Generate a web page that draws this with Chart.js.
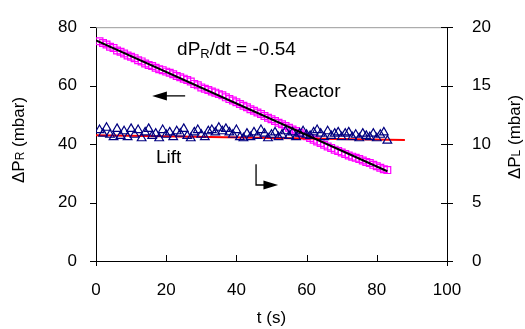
<!DOCTYPE html>
<html>
<head>
<meta charset="utf-8">
<script src="https://cdn.jsdelivr.net/npm/chart.js@4.4.0/dist/chart.umd.min.js"></script>
<style>
  html, body { margin: 0; padding: 0; background: #fff; }
</style>
</head>
<body>
<canvas id="pressureChart" width="525" height="329"></canvas>
<script>
// time axis (s)
const timeS = [
  1, 2, 3, 4, 5, 6, 7, 8, 9, 10, 11, 12, 13, 14, 15, 16, 17, 18, 19, 20,
  21, 22, 23, 24, 25, 26, 27, 28, 29, 30, 31, 32, 33, 34, 35, 36, 37, 38, 39, 40,
  41, 42, 43, 44, 45, 46, 47, 48, 49, 50, 51, 52, 53, 54, 55, 56, 57, 58, 59, 60,
  61, 62, 63, 64, 65, 66, 67, 68, 69, 70, 71, 72, 73, 74, 75, 76, 77, 78, 79, 80,
  81, 82, 83
];

// reactor pressure drop (mbar, left axis)
const reactorP = [
  75.2, 74.6, 74.1, 73.3, 72.9, 72.0, 71.6, 71.0, 70.3, 69.9,
  69.4, 68.7, 68.3, 67.6, 67.1, 66.7, 66.1, 65.6, 65.3, 64.8,
  64.4, 63.9, 63.3, 62.9, 62.4, 61.9, 61.4, 60.6, 60.1, 59.4,
  58.9, 58.5, 58.0, 57.6, 57.1, 56.7, 56.0, 55.4, 54.9, 54.3,
  53.7, 53.1, 52.6, 51.9, 51.4, 50.8, 50.3, 49.6, 49.0, 48.5,
  47.9, 47.3, 46.8, 46.2, 45.6, 45.0, 44.5, 43.9, 43.3, 42.7,
  42.1, 41.5, 40.9, 40.4, 39.8, 39.2, 38.7, 38.1, 37.6, 37.1,
  36.6, 36.1, 35.7, 35.3, 34.9, 34.4, 33.9, 33.5, 32.9, 32.4,
  31.9, 31.4, 31.1
];

// lift pressure drop (mbar, right axis)
const liftP = [
  11.2, 10.9, 11.4, 10.8, 10.6, 11.3, 10.7, 11.1, 10.6, 11.3,
  10.8, 11.2, 10.5, 11.0, 11.3, 10.7, 10.9, 10.5, 11.2, 10.8,
  11.0, 10.6, 11.1, 10.9, 11.3, 10.7, 10.5, 11.0, 11.2, 10.8,
  10.6, 11.1, 11.2, 11.0, 11.4, 11.1, 11.3, 11.0, 10.8, 11.2,
  10.6, 10.5, 10.9, 10.6, 11.0, 10.7, 11.2, 10.9, 10.5, 10.8,
  11.0, 10.6, 10.8, 11.1, 10.7, 11.0, 10.6, 10.9, 11.1, 10.8,
  10.7, 11.0, 11.2, 10.9, 10.6, 11.1, 10.7, 10.9, 11.0, 10.6,
  10.9, 11.0, 10.6, 10.8, 10.5, 10.9, 10.7, 10.6, 10.9, 10.5,
  10.8, 11.0, 10.3
];

// fitted lines
const reactorFitT = [0, 83];
const reactorFitP = [75.5, 30.7];
const liftFitT = [0, 88];
const liftFitP = [10.75, 10.35];

// axis ticks
const xTicks = [0, 20, 40, 60, 80, 100];
const leftTicks = [0, 20, 40, 60, 80];
const rightTicks = [0, 5, 10, 15, 20];

const FONT = 'Arial, "Liberation Sans", sans-serif';

function toPoints(xs, ys) {
    return xs.map((x, i) => ({ x: x, y: ys[i] }));
}

// tick marks, frame top and the text / arrow annotations
const decorPlugin = {
    id: 'decor',
    afterDraw(chart) {
        const ctx = chart.ctx;
        const { left, right, top, bottom } = chart.chartArea;
        const sx = chart.scales.x, sy = chart.scales.y, sy2 = chart.scales.y2;
        const px = t => sx.getPixelForValue(t);
        const py = v => sy.getPixelForValue(v);

        ctx.save();
        // top frame line
        ctx.strokeStyle = '#999';
        ctx.lineWidth = 1;
        ctx.beginPath();
        ctx.moveTo(left, top + 0.5);
        ctx.lineTo(right, top + 0.5);
        ctx.stroke();

        ctx.strokeStyle = '#000';
        ctx.beginPath();
        leftTicks.forEach(v => {
            const y = Math.round(py(v)) + 0.5;
            ctx.moveTo(left - 6, y);
            ctx.lineTo(left, y);
        });
        rightTicks.forEach(v => {
            const y = Math.round(sy2.getPixelForValue(v)) + 0.5;
            ctx.moveTo(right - 6, y);
            ctx.lineTo(right + 6, y);
        });
        xTicks.forEach(t => {
            const x = Math.round(px(t)) + 0.5;
            ctx.moveTo(x, bottom - 6);
            ctx.lineTo(x, bottom + (t === 0 || t === 100 ? 5 : 0));
        });
        ctx.stroke();

        // texts
        ctx.fillStyle = '#000';
        ctx.textBaseline = 'alphabetic';
        ctx.textAlign = 'left';
        let x = px(23.1), y = py(70.4);
        ctx.font = '19px ' + FONT;
        ctx.fillText('dP', x, y);
        x += ctx.measureText('dP').width;
        ctx.font = '13px ' + FONT;
        ctx.fillText('R', x, y + 3);
        x += ctx.measureText('R').width;
        ctx.font = '19px ' + FONT;
        ctx.fillText('/dt = -0.54', x, y);

        ctx.fillText('Reactor', px(50.7), py(56.0));
        ctx.fillText('Lift', px(17.1), py(33.4));

        // left arrow
        ctx.lineWidth = 1.3;
        const ay = py(56.5);
        ctx.beginPath();
        ctx.moveTo(px(25.4), ay);
        ctx.lineTo(px(19.5), ay);
        ctx.stroke();
        ctx.beginPath();
        ctx.moveTo(px(16.0), ay);
        ctx.lineTo(px(20.2), ay - 4.5);
        ctx.lineTo(px(20.2), ay + 4.5);
        ctx.closePath();
        ctx.fill();

        // bent arrow
        const bx = px(45.6), by = py(26.0);
        ctx.beginPath();
        ctx.moveTo(bx, py(33.1));
        ctx.lineTo(bx, by);
        ctx.lineTo(px(48.5), by);
        ctx.stroke();
        ctx.beginPath();
        ctx.moveTo(px(51.9), by);
        ctx.lineTo(px(47.7), by - 4.5);
        ctx.lineTo(px(47.7), by + 4.5);
        ctx.closePath();
        ctx.fill();

        // axis titles
        function subTitle(cx, cy, main, sub, rest) {
            ctx.save();
            ctx.translate(cx, cy);
            ctx.rotate(-Math.PI / 2);
            ctx.font = '17px ' + FONT;
            const w1 = ctx.measureText(main).width;
            const w3 = ctx.measureText(rest).width;
            ctx.font = '12px ' + FONT;
            const w2 = ctx.measureText(sub).width;
            let tx = -(w1 + w2 + w3) / 2;
            ctx.font = '17px ' + FONT;
            ctx.fillText(main, tx, 6);
            ctx.font = '12px ' + FONT;
            ctx.fillText(sub, tx + w1, 6);
            ctx.font = '17px ' + FONT;
            ctx.fillText(rest, tx + w1 + w2, 6);
            ctx.restore();
        }
        subTitle(18, 140, '\u0394P', 'R', ' (mbar)');
        subTitle(514, 137, '\u0394P', 'L', ' (mbar)');

        ctx.font = '17px ' + FONT;
        ctx.textAlign = 'center';
        ctx.fillText('t (s)', px(50), 323);
        ctx.restore();
    }
};

const ctx = document.getElementById('pressureChart');

new Chart(ctx, {
    type: 'scatter',
    data: {
        datasets: [
            {
                label: 'Reactor fit',
                data: toPoints(reactorFitT, reactorFitP),
                showLine: true,
                borderColor: '#000',
                borderWidth: 2,
                pointRadius: 0,
                yAxisID: 'y'
            },
            {
                label: 'Lift',
                data: toPoints(timeS, liftP),
                pointStyle: 'triangle',
                pointRadius: 5,
                borderColor: '#000080',
                backgroundColor: 'rgba(0,0,0,0)',
                borderWidth: 1.2,
                yAxisID: 'y2'
            },
            {
                label: 'Lift fit',
                data: toPoints(liftFitT, liftFitP),
                showLine: true,
                borderColor: '#ff0000',
                borderWidth: 2,
                pointRadius: 0,
                yAxisID: 'y2'
            },
            {
                label: 'Reactor',
                data: toPoints(timeS, reactorP),
                pointStyle: 'rect',
                pointRadius: 4.8,
                borderColor: '#ff00ff',
                backgroundColor: 'rgba(0,0,0,0)',
                borderWidth: 1.2,
                yAxisID: 'y'
            }
        ]
    },
    options: {
        responsive: false,
        animation: { duration: 0 },
        layout: { padding: { top: 12, left: 0, right: 0, bottom: 0 } },
        plugins: {
            legend: { display: false },
            tooltip: { enabled: false }
        },
        scales: {
            x: {
                type: 'linear',
                min: 0,
                max: 100,
                afterFit: s => { s.height = 68; },
                afterBuildTicks: s => { s.ticks = xTicks.map(v => ({ value: v })); },
                grid: { display: false },
                border: { display: true, color: '#000', width: 1 },
                ticks: { color: '#000', padding: 11, font: { size: 17, family: FONT } }
            },
            y: {
                type: 'linear',
                position: 'left',
                min: 0,
                max: 80,
                afterFit: s => { s.width = 96; },
                afterBuildTicks: s => { s.ticks = leftTicks.map(v => ({ value: v })); },
                grid: { display: false },
                border: { display: true, color: '#000', width: 1 },
                ticks: { color: '#000', padding: 11, font: { size: 17, family: FONT } }
            },
            y2: {
                type: 'linear',
                position: 'right',
                min: 0,
                max: 20,
                afterFit: s => { s.width = 78; },
                afterBuildTicks: s => { s.ticks = rightTicks.map(v => ({ value: v })); },
                grid: { display: false },
                border: { display: true, color: '#000', width: 1 },
                ticks: { color: '#000', padding: 17, font: { size: 17, family: FONT } }
            }
        }
    },
    plugins: [decorPlugin]
});
</script>
</body>
</html>
